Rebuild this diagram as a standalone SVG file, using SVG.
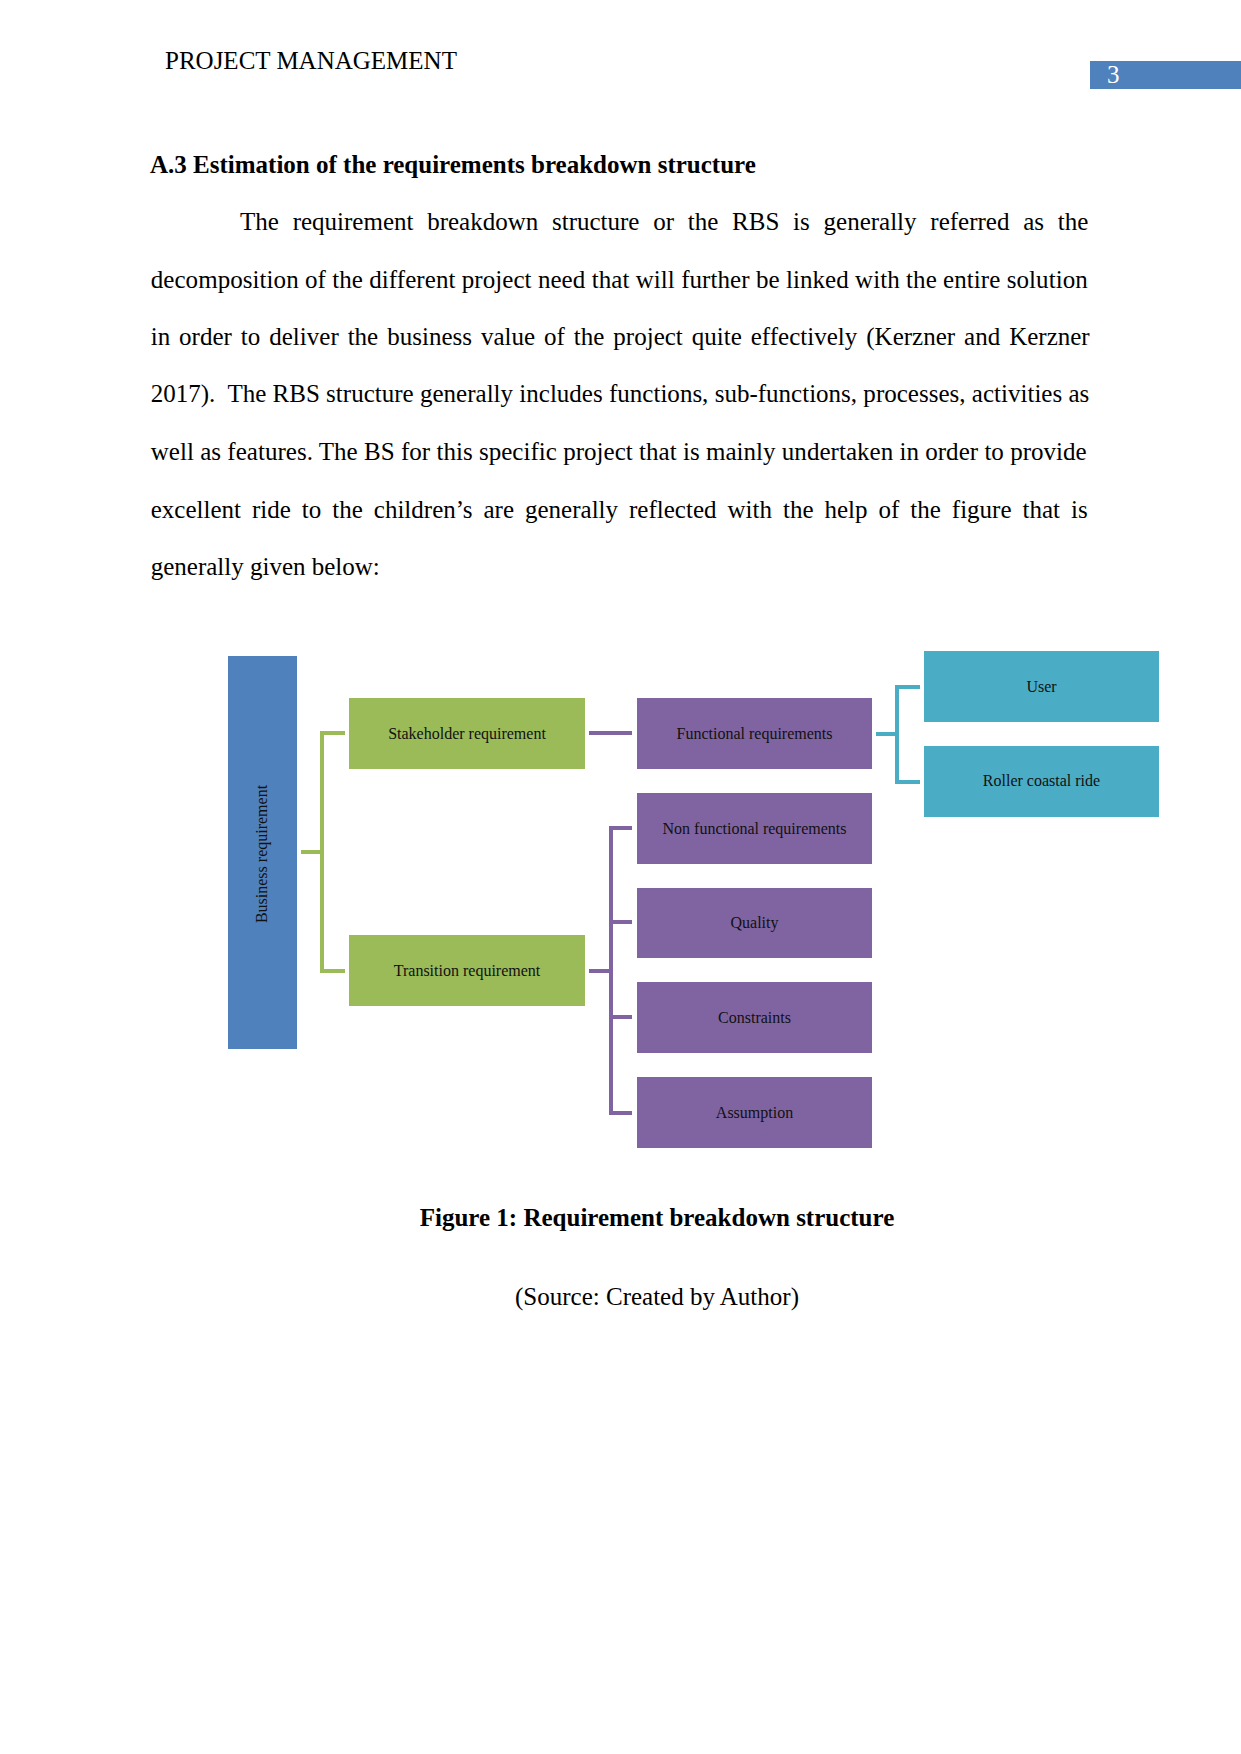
<svg xmlns="http://www.w3.org/2000/svg" width="1241" height="1754" viewBox="0 0 1241 1754">
<style>
.body{font-family:"Liberation Serif","Times New Roman",serif;font-size:25px;fill:#000}
.bold{font-weight:bold}
.node{font-family:"Liberation Serif","Times New Roman",serif;font-size:16px;fill:#111;text-anchor:middle}
.green{fill:#9BBB59}
.purple{fill:#8064A2}
.teal{fill:#4BACC6}
.blue{fill:#4F81BD}
.conn{fill:none;stroke-width:4;stroke-linejoin:miter;stroke-linecap:butt}
</style>
<rect width="1241" height="1754" fill="#fff"/>
<!-- header -->
<text class="body" x="165" y="69">PROJECT MANAGEMENT</text>
<rect x="1090" y="61" width="151" height="28" class="blue"/>
<text class="body" x="1107" y="83" style="fill:#fff">3</text>

<!-- heading and paragraph -->
<text class="body bold" x="150" y="173">A.3 Estimation of the requirements breakdown structure</text>
<text class="body" x="240" y="230" word-spacing="7.5" textLength="848.3" lengthAdjust="spacing">The requirement breakdown structure or the RBS is generally referred as the</text>
<text class="body" x="150.7" y="288" textLength="937" lengthAdjust="spacing">decomposition of the different project need that will further be linked with the entire solution</text>
<text class="body" x="150.7" y="345" word-spacing="2.7" textLength="939" lengthAdjust="spacing">in order to deliver the business value of the project quite effectively (Kerzner and Kerzner</text>
<text class="body" x="150.7" y="402" textLength="938.6" lengthAdjust="spacing" xml:space="preserve">2017).  The RBS structure generally includes functions, sub-functions, processes, activities as</text>
<text class="body" x="150.7" y="460" textLength="936" lengthAdjust="spacing">well as features. The BS for this specific project that is mainly undertaken in order to provide</text>
<text class="body" x="150.7" y="518" word-spacing="4.7" textLength="937" lengthAdjust="spacing">excellent ride to the children’s are generally reflected with the help of the figure that is</text>
<text class="body" x="150.7" y="575">generally given below:</text>

<!-- connectors -->
<g id="connectors">
  <path class="conn" stroke="#9BBB59" d="M301 852 H322 M345 733 H322 V971 H345"/>
  <path class="conn" stroke="#8064A2" d="M589 733 H632"/>
  <path class="conn" stroke="#8064A2" d="M589 971 H611 M632 828 H611 V1113 H632 M611 922 H632 M611 1017 H632"/>
  <path class="conn" stroke="#4BACC6" d="M876 734 H897 M920 687 H897 V782 H920"/>
</g>

<!-- nodes -->
<g id="business">
  <rect x="228" y="656" width="69" height="393" class="blue"/>
  <text class="node" transform="translate(267,854) rotate(-90)" x="0" y="0">Business requirement</text>
</g>
<g id="stakeholder">
  <rect x="349" y="698" width="236" height="71" class="green"/>
  <text class="node" x="467" y="739">Stakeholder requirement</text>
</g>
<g id="transition">
  <rect x="349" y="935" width="236" height="71" class="green"/>
  <text class="node" x="467" y="976">Transition requirement</text>
</g>
<g id="functional">
  <rect x="637" y="698" width="235" height="71" class="purple"/>
  <text class="node" x="754.5" y="739">Functional requirements</text>
</g>
<g id="nonfunctional">
  <rect x="637" y="793" width="235" height="71" class="purple"/>
  <text class="node" x="754.5" y="834">Non functional requirements</text>
</g>
<g id="quality">
  <rect x="637" y="888" width="235" height="70" class="purple"/>
  <text class="node" x="754.5" y="928">Quality</text>
</g>
<g id="constraints">
  <rect x="637" y="982" width="235" height="71" class="purple"/>
  <text class="node" x="754.5" y="1023">Constraints</text>
</g>
<g id="assumption">
  <rect x="637" y="1077" width="235" height="71" class="purple"/>
  <text class="node" x="754.5" y="1118">Assumption</text>
</g>
<g id="user">
  <rect x="924" y="651" width="235" height="71" class="teal"/>
  <text class="node" x="1041.5" y="692">User</text>
</g>
<g id="roller">
  <rect x="924" y="746" width="235" height="71" class="teal"/>
  <text class="node" x="1041.5" y="786">Roller coastal ride</text>
</g>

<!-- caption -->
<text class="body bold" x="657" y="1226" text-anchor="middle">Figure 1: Requirement breakdown structure</text>
<text class="body" x="657" y="1305" text-anchor="middle">(Source: Created by Author)</text>
</svg>
